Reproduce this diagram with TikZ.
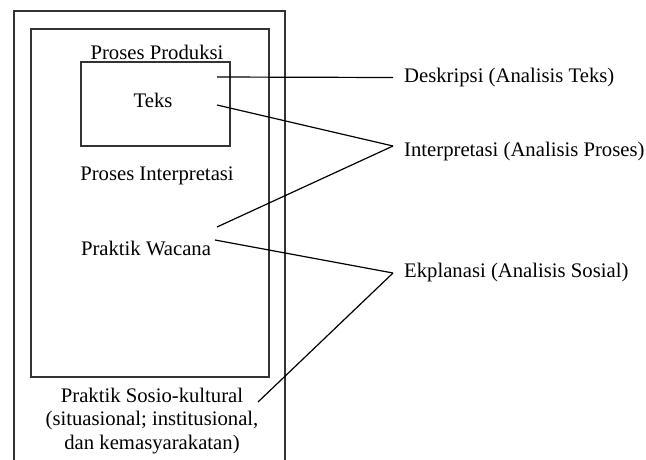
\documentclass[tikz,border=0pt]{standalone}
\usepackage{fontspec}
\setmainfont{Liberation Serif}
\begin{document}
\begin{tikzpicture}[x=1pt, y=-1pt,
  lbl/.style={font=\fontsize{20.7}{23.5}\selectfont, inner sep=0pt},
  tag/.style={lbl, inner xsep=11pt, anchor=west},
  box/.style={draw=black!80, line width=1.1pt},
  link/.style={-, line width=1.2pt, draw=black}]
\useasboundingbox (0,0) rectangle (646,459);
% frames
\draw[box] (14,470) -- (14,11) -- (285,11) -- (285,470);
\draw[box] (31,29) rectangle (269,377);
\draw[box] (81,62) rectangle (230,146);
% texts inside the frames
\node[lbl, anchor=base] (produksi) at (157,59) {Proses Produksi};
\node[lbl, anchor=base] (teks) at (153,107) {Teks};
\node[lbl, anchor=base] (interpretasi) at (157,180) {Proses Interpretasi};
\node[lbl, anchor=base] (wacana) at (146,255) {Praktik Wacana};
\node[lbl, align=center] (sosio) at (152,421) {Praktik Sosio-kultural\\(situasional; institusional,\\dan kemasyarakatan)};
% labels on the right
\node[tag] (deskripsi) at (393,77.5) {Deskripsi (Analisis Teks)};
\node[tag] (proses) at (393,152) {Interpretasi (Analisis Proses)};
\node[tag] (sosial) at (393,273) {Ekplanasi (Analisis Sosial)};
% loose ends of the links
\coordinate (t1) at (217,77);
\coordinate (t2) at (217,105);
\coordinate (w1) at (217,227);
\coordinate (w2) at (215,240);
\coordinate (s1) at (258,402);
\path [link] (t1) edge (deskripsi.west);
\path [link] (t2) edge ([yshift=6pt]proses.west);
\path [link] (w1) edge ([yshift=6pt]proses.west);
\path [link] (w2) edge (sosial.west);
\path [link] (s1) edge (sosial.west);
\end{tikzpicture}
\end{document}
